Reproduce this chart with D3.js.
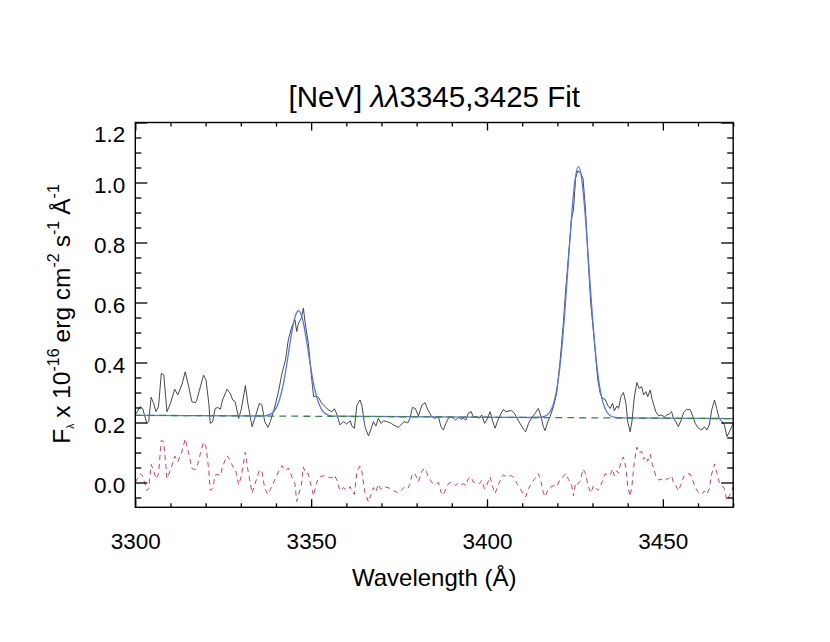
<!DOCTYPE html>
<html><head><meta charset="utf-8">
<script src="https://cdn.jsdelivr.net/npm/d3@7"></script>
<style>body{margin:0;background:#fff}svg{font-family:"Liberation Sans",Arial,sans-serif}</style>
</head><body><svg id="c" width="830" height="642"></svg>
<script>
const wave = [3300.0,3301.4,3302.1,3303.3,3303.8,3304.5,3305.2,3305.9,3306.6,3307.4,3308.1,3309.0,3310.0,3311.2,3312.1,3313.3,3314.2,3315.2,3316.1,3317.1,3317.5,3318.5,3319.4,3320.1,3320.9,3321.3,3322.0,3322.7,3323.5,3324.2,3324.8,3326.1,3327.0,3327.7,3328.4,3329.4,3330.1,3331.3,3332.0,3333.2,3334.1,3335.3,3336.0,3336.8,3337.7,3338.4,3339.1,3339.8,3340.8,3341.7,3342.7,
3343.5,3344.5,3345.4,3345.9,3346.4,3347.2,3347.8,3348.3,3349.2,3350.0,3350.7,3351.3,3352.1,3353.0,3354.0,3354.9,3355.9,3356.6,3357.3,3358.2,3359.2,3360.1,3361.1,3361.6,3362.3,3363.0,3363.9,3364.4,3365.3,3366.3,3367.1,3367.7,3368.4,3369.1,3369.9,3370.6,3371.5,3372.5,3373.4,3374.8,3375.8,3376.5,3377.5,3378.1,3378.8,3379.6,3380.5,3381.5,3382.4,3383.2,3384.3,
3385.2,3386.2,3386.9,3387.6,3388.3,3389.0,3389.8,3390.5,3391.1,3391.9,3392.6,3393.3,3394.0,3394.7,3395.5,3396.1,3397.1,3397.8,3398.5,3399.3,3399.9,3400.4,3400.9,3401.5,3402.3,3403.1,3404.0,3404.7,3405.3,3406.3,3407.0,3407.8,3408.5,3409.4,3410.4,3411.0,3411.8,3412.9,3413.7,3414.6,3415.4,3416.0,3416.5,3417.3,3417.9,3418.9,3419.8,
3420.8,3421.7,3422.4,3423.2,3424.0,3424.6,3425.2,3425.8,3426.5,3427.3,3428.0,3428.7,3429.5,3430.3,
3431.5,3432.2,3432.8,3433.6,3434.3,3435.0,3435.7,3436.2,3436.9,3437.4,3438.1,3438.8,3439.5,3440.0,3440.7,3441.2,3441.9,3442.6,3443.3,3444.0,3444.5,3445.2,3445.7,3446.4,3447.0,3448.0,3448.8,3449.5,3450.5,3451.1,3451.8,3452.5,3453.0,3453.7,3454.4,3455.2,3455.9,3456.8,3457.8,3458.4,3459.2,3460.1,3461.1,3461.8,3462.5,3463.2,3463.9,3464.7,3465.3,3466.0,3466.8,3467.5,3468.2,3468.9,3469.6,3470.0];

const flux = [0.225,0.253,0.246,0.197,0.203,0.284,0.264,0.236,0.253,0.364,0.358,0.236,0.264,0.311,0.292,0.328,0.369,0.319,0.269,0.266,0.275,0.319,0.358,0.342,0.264,0.197,0.203,0.247,0.250,0.244,0.275,0.311,0.297,0.275,0.269,0.214,0.242,0.323,0.264,0.186,0.219,0.264,0.258,0.203,0.184,0.203,0.231,0.258,0.308,0.364,0.408,
0.475,0.519,0.542,0.503,0.531,0.547,0.581,0.531,0.464,0.364,0.286,0.288,0.284,0.264,0.253,0.242,0.236,0.246,0.228,0.192,0.203,0.195,0.206,0.188,0.181,0.258,0.275,0.258,0.186,0.155,0.181,0.203,0.188,0.214,0.197,0.206,0.203,0.199,0.192,0.184,0.195,0.203,0.199,0.214,0.250,0.247,0.222,0.258,0.266,0.242,0.219,
0.214,0.219,0.186,0.175,0.197,0.214,0.219,0.214,0.208,0.217,0.211,0.214,0.208,0.231,0.236,0.219,0.219,0.214,0.225,0.197,0.208,0.222,0.236,0.208,0.181,0.208,0.231,0.244,0.236,0.239,0.239,0.231,0.214,0.197,0.177,0.169,0.197,0.219,0.231,0.247,0.219,0.186,0.173,0.203,0.219,0.253,0.297,
0.407,0.530,0.646,0.758,0.876,0.911,1.015,1.038,1.034,1.013,0.911,0.755,0.597,0.500,
0.342,0.297,0.281,0.277,0.258,0.247,0.264,0.239,0.255,0.247,0.286,0.300,0.264,0.203,0.169,0.203,0.286,0.333,0.314,0.319,0.292,0.303,0.286,0.308,0.275,0.236,0.222,0.225,0.219,0.225,0.228,0.236,0.214,0.203,0.186,0.208,0.233,0.244,0.242,0.225,0.197,0.181,0.175,0.186,0.175,0.192,0.242,0.275,0.247,0.214,0.203,0.192,0.153,0.169,0.186,0.200];

const resid = [0.001,0.029,0.022,-0.027,-0.021,0.060,0.040,0.012,0.029,0.141,0.135,0.013,0.041,0.088,0.069,0.105,0.146,0.096,0.046,0.043,0.052,0.096,0.135,0.119,0.041,-0.026,-0.020,0.024,0.027,0.022,0.053,0.089,0.075,0.053,0.047,-0.008,0.020,0.101,0.042,-0.036,-0.003,0.042,0.036,-0.019,-0.040,-0.024,-0.005,0.013,0.038,0.056,0.039,
0.048,0.020,-0.005,-0.063,-0.042,-0.009,0.052,0.032,0.029,-0.011,-0.045,-0.011,0.017,0.021,0.023,0.018,0.015,0.025,0.008,-0.028,-0.017,-0.025,-0.014,-0.032,-0.039,0.038,0.055,0.038,-0.034,-0.065,-0.039,-0.017,-0.032,-0.006,-0.023,-0.014,-0.016,-0.020,-0.027,-0.035,-0.024,-0.016,-0.020,-0.005,0.031,0.028,0.003,0.039,0.047,0.023,0.000,
-0.005,0.000,-0.032,-0.043,-0.021,-0.004,0.001,-0.004,-0.010,-0.001,-0.007,-0.004,-0.010,0.013,0.018,0.001,0.001,-0.004,0.007,-0.021,-0.010,0.005,0.019,-0.010,-0.037,-0.010,0.013,0.026,0.019,0.022,0.022,0.014,-0.003,-0.020,-0.040,-0.048,-0.020,0.002,0.014,0.030,0.001,-0.033,-0.048,-0.025,-0.017,-0.010,-0.014,
0.011,0.020,0.030,0.010,-0.005,-0.045,0.000,-0.005,0.005,0.045,0.030,-0.010,-0.035,-0.010,
-0.026,-0.013,0.004,0.029,0.025,0.024,0.045,0.022,0.039,0.031,0.071,0.085,0.049,-0.012,-0.046,-0.012,0.071,0.118,0.099,0.104,0.077,0.088,0.071,0.094,0.061,0.022,0.008,0.011,0.005,0.011,0.014,0.022,0.000,-0.011,-0.028,-0.006,0.019,0.030,0.028,0.011,-0.017,-0.033,-0.039,-0.028,-0.039,-0.021,0.029,0.062,0.034,0.001,-0.010,-0.021,-0.060,-0.044,-0.027,-0.013];

const modelWave = [3300,3336,3338,3340,3341,3342,3343,3344,3345,3346,3346.4,3347,3348,3349,3350,3351,3352,3353,3354,3355,3357,3414,3416,3417,3418,3419,3420,3421,3422,3423,3424,3425,3426,3427,3428,3429,3430,3431,3432,3433,3434,3435,3436,3438,3470];
const modelFlux = [0.224,0.2217,0.2255,0.247,0.276,0.323,0.389,0.465,0.532,0.569,0.573,0.565,0.520,0.450,0.375,0.312,0.269,0.243,0.230,0.224,0.221,0.2167,0.2192,0.2244,0.2374,0.2663,0.3222,0.4151,0.5499,0.7148,0.8808,1.0058,1.0528,1.0057,0.8806,0.7145,0.5495,0.4145,0.3215,0.2655,0.2365,0.2233,0.2179,0.2154,0.213];

const contWave = [3300, 3470];
const contFlux = [0.224, 0.213];

const xMajor = [3300, 3350, 3400, 3450];
const yMajor = [0.0, 0.2, 0.4, 0.6, 0.8, 1.0, 1.2];

const svg = d3.select("#c");
const L = 135.3, R = 733.2, T = 122.5, B = 507.3;
const x = d3.scaleLinear().domain([3300, 3470]).range([L, R]);
const y = d3.scaleLinear().domain([0, 1.2]).range([482.5, T]);

const xMinor = d3.range(3300, 3471, 10).filter(v => v % 50 !== 0);
const yMinor = d3.range(-0.05, 1.2, 0.05).map(v => +v.toFixed(2)).filter(v => Math.abs(v*5 - Math.round(v*5)) > 1e-6);

svg.append("defs").append("clipPath").attr("id","clip")
  .append("rect").attr("x",L).attr("y",T).attr("width",R-L).attr("height",B-T);

const plot = svg.append("g").attr("clip-path","url(#clip)");
const pts = (xs, ys) => xs.map((v,i)=>[v, ys[i]]);

plot.append("path").datum(pts(wave, flux))
  .attr("fill","none").attr("stroke","#333").attr("stroke-width",0.9)
  .attr("d", d3.line().x(d=>x(d[0])).y(d=>y(d[1])));
plot.append("path").datum(pts(modelWave, modelFlux))
  .attr("fill","none").attr("stroke","#5577e6").attr("stroke-width",1.3)
  .attr("d", d3.line().curve(d3.curveMonotoneX).x(d=>x(d[0])).y(d=>y(d[1])));
plot.append("path").datum(pts(contWave, contFlux))
  .attr("fill","none").attr("stroke","#2f8a3c").attr("stroke-width",1.3).attr("stroke-dasharray","7,5")
  .attr("d", d3.line().x(d=>x(d[0])).y(d=>y(d[1])));
plot.append("path").datum(pts(wave, resid))
  .attr("fill","none").attr("stroke","#c83c6e").attr("stroke-width",1.0).attr("stroke-dasharray","5,4")
  .attr("d", d3.line().x(d=>x(d[0])).y(d=>y(d[1])));

// axes
const fs = 22.5;
svg.append("g").attr("transform",`translate(0,${B})`)
  .call(d3.axisBottom(x).tickValues(xMajor).tickSizeInner(-8).tickSizeOuter(0).tickPadding(26).tickFormat(d3.format("d")));
svg.append("g").attr("transform",`translate(0,${B})`)
  .call(d3.axisBottom(x).tickValues(xMinor).tickSizeInner(-4).tickSizeOuter(0).tickFormat(""));
svg.append("g").attr("transform",`translate(0,${T})`)
  .call(d3.axisTop(x).tickValues(xMajor).tickSizeInner(-8).tickSizeOuter(0).tickFormat(""));
svg.append("g").attr("transform",`translate(0,${T})`)
  .call(d3.axisTop(x).tickValues(xMinor).tickSizeInner(-4).tickSizeOuter(0).tickFormat(""));
const gL = svg.append("g").attr("transform",`translate(${L},0)`)
  .call(d3.axisLeft(y).tickValues(yMajor).tickSizeInner(-12).tickSizeOuter(0).tickPadding(10).tickFormat(d3.format(".1f")));
svg.append("g").attr("transform",`translate(${L},0)`)
  .call(d3.axisLeft(y).tickValues(yMinor).tickSizeInner(-6).tickSizeOuter(0).tickFormat(""));
svg.append("g").attr("transform",`translate(${R},0)`)
  .call(d3.axisRight(y).tickValues(yMajor).tickSizeInner(-12).tickSizeOuter(0).tickFormat(""));
svg.append("g").attr("transform",`translate(${R},0)`)
  .call(d3.axisRight(y).tickValues(yMinor).tickSizeInner(-6).tickSizeOuter(0).tickFormat(""));

svg.selectAll(".domain").remove();
svg.selectAll(".tick line").attr("stroke","#000").attr("stroke-width",1.3);
svg.selectAll(".tick text").attr("fill","#000").style("font-size",fs+"px").style("font-family","'Liberation Sans',Arial,sans-serif");
gL.selectAll(".tick text").attr("dy", function(d){ return d===1.2 ? "0.85em" : "0.45em"; });

svg.append("rect").attr("x",L).attr("y",T).attr("width",R-L).attr("height",B-T)
  .attr("fill","none").attr("stroke","#000").attr("stroke-width",1.4);

// title
const title = svg.append("text").attr("x",(L+R)/2).attr("y",107).attr("text-anchor","middle")
  .style("font-size","29.5px").attr("fill","#000");
title.append("tspan").text("[NeV]\u00A0");
title.append("tspan").style("font-style","italic").text("λλ");
title.append("tspan").text("3345,3425 Fit");

// x label
svg.append("text").attr("x",(L+R)/2).attr("y",586).attr("text-anchor","middle")
  .style("font-size","24px").attr("fill","#000").text("Wavelength (Å)");

// y label
const yl = svg.append("text").attr("transform","translate(70,314) rotate(-90)").attr("text-anchor","middle")
  .style("font-size","24.5px").attr("fill","#000");
yl.append("tspan").text("F");
yl.append("tspan").style("font-size","10px").attr("dy","4").text("λ");
yl.append("tspan").attr("dy","-4").attr("dx","6").text("x 10");
yl.append("tspan").style("font-size","16px").attr("dy","-11").text("-16");
yl.append("tspan").attr("dy","11").attr("dx","6").text("erg cm");
yl.append("tspan").style("font-size","16px").attr("dy","-11").text("-2");
yl.append("tspan").attr("dy","11").attr("dx","6").text("s");
yl.append("tspan").style("font-size","16px").attr("dy","-11").text("-1");
yl.append("tspan").attr("dy","11").attr("dx","6").text("Å");
yl.append("tspan").style("font-size","16px").attr("dy","-11").text("-1");
</script></body></html>
